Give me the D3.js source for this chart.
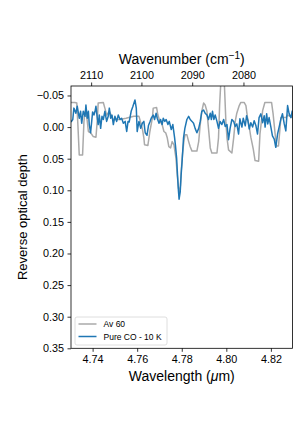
<html>
<head>
    <script src="https://d3js.org/d3.v7.min.js"></script>
    <style>
        body { margin: 0; background: #fff; }
        text { font-family: "Liberation Sans", Arial, sans-serif; fill: #000; }
        .axis path, .axis line { stroke: #000; stroke-width: 0.8px; }
        .axis text { font-size: 10.8px; }
    </style>
</head>
<body>
    <svg id="chart" width="308" height="436" style="background: #fff"></svg>

    <script>
        // wavelength (um), reverse optical depth
        const avSpectrum = [
          [4.7303,-0.039],[4.7320,-0.039],[4.7329,-0.038],[4.7334,-0.003],[4.7340,0.044],[4.7355,0.044],
          [4.7361,-0.008],[4.7366,-0.025],[4.7373,-0.019],[4.7381,0.007],[4.7391,0.009],[4.7403,0.015],
          [4.7415,0.016],[4.7421,-0.011],[4.7425,-0.038],[4.7448,-0.039],[4.7455,-0.030],[4.7463,-0.019],
          [4.7475,-0.025],[4.7486,-0.017],[4.7491,-0.012],[4.7523,-0.012],[4.7550,-0.014],[4.7585,-0.017],
          [4.7608,-0.017],[4.7623,0.002],[4.7630,0.017],[4.7633,0.028],[4.7648,0.029],[4.7657,0.007],
          [4.7668,-0.014],[4.7672,-0.030],[4.7687,-0.031],[4.7693,-0.019],[4.7702,-0.009],[4.7712,-0.004],
          [4.7720,0.007],[4.7728,0.009],[4.7735,0.017],[4.7742,0.031],[4.7750,0.033],[4.7757,0.023],
          [4.7765,0.028],[4.7774,0.049],[4.7780,0.076],[4.7785,0.096],[4.7789,0.103],[4.7794,0.093],
          [4.7798,0.068],[4.7803,0.044],[4.7810,0.021],[4.7815,0.012],[4.7823,0.012],[4.7831,0.023],
          [4.7838,0.031],[4.7846,0.038],[4.7868,0.038],[4.7876,0.023],[4.7883,-0.004],[4.7890,-0.025],
          [4.7898,-0.038],[4.7905,-0.035],[4.7913,-0.025],[4.7920,0.002],[4.7928,0.033],[4.7935,0.041],
          [4.7958,0.041],[4.7965,0.017],[4.7970,-0.035],[4.7974,-0.062],[4.7978,-0.085],[4.7989,-0.085],
          [4.7992,-0.062],[4.7998,-0.009],[4.8003,0.017],[4.8010,0.036],[4.8025,0.041],[4.8033,0.017],
          [4.8040,-0.009],[4.8047,-0.022],[4.8058,-0.034],[4.8065,-0.039],[4.8080,-0.039],[4.8088,-0.034],
          [4.8095,-0.015],[4.8103,0.000],[4.8110,0.016],[4.8121,0.035],[4.8129,0.053],[4.8145,0.054],
          [4.8151,0.011],[4.8163,-0.026],[4.8173,-0.039],[4.8203,-0.039],[4.8210,-0.021],[4.8219,0.011],
          [4.8225,0.030],[4.8234,0.030],[4.8240,0.006],[4.8245,-0.015],[4.8267,-0.015],[4.8276,-0.019],
          [4.8296,-0.015]
        ];

        const pureCO = [
          [4.7303,-0.008],[4.7311,-0.012],[4.7316,-0.030],[4.7325,-0.022],[4.7331,-0.033],[4.7340,-0.014],
          [4.7346,-0.025],[4.7351,-0.006],[4.7358,-0.025],[4.7366,-0.017],[4.7370,-0.035],[4.7376,-0.014],
          [4.7381,-0.025],[4.7385,-0.004],[4.7391,0.009],[4.7400,-0.024],[4.7406,-0.019],[4.7411,-0.025],
          [4.7415,-0.033],[4.7421,-0.014],[4.7425,-0.004],[4.7430,-0.019],[4.7436,0.002],[4.7442,-0.017],
          [4.7448,-0.012],[4.7455,-0.025],[4.7463,-0.009],[4.7470,-0.017],[4.7475,-0.030],[4.7481,-0.014],
          [4.7487,-0.019],[4.7493,-0.004],[4.7500,-0.017],[4.7508,-0.009],[4.7515,-0.019],[4.7523,-0.012],
          [4.7530,-0.014],[4.7538,-0.006],[4.7546,-0.009],[4.7553,0.007],[4.7559,-0.009],[4.7564,-0.008],
          [4.7573,-0.025],[4.7581,-0.033],[4.7590,-0.043],[4.7596,-0.030],[4.7600,0.007],[4.7608,-0.009],
          [4.7616,0.002],[4.7623,-0.006],[4.7630,-0.009],[4.7636,0.009],[4.7644,0.013],[4.7651,-0.003],
          [4.7657,-0.008],[4.7663,-0.014],[4.7672,-0.019],[4.7678,-0.012],[4.7685,-0.022],[4.7690,-0.014],
          [4.7698,-0.006],[4.7705,-0.012],[4.7712,-0.004],[4.7717,-0.014],[4.7724,-0.009],[4.7730,-0.012],
          [4.7738,-0.004],[4.7744,-0.009],[4.7753,0.004],[4.7760,-0.004],[4.7768,0.017],[4.7772,0.030],
          [4.7777,0.049],[4.7781,0.076],[4.7785,0.100],[4.7788,0.114],[4.7793,0.103],[4.7797,0.077],
          [4.7802,0.052],[4.7808,0.017],[4.7814,0.002],[4.7823,-0.012],[4.7831,-0.017],[4.7838,-0.012],
          [4.7846,-0.009],[4.7853,-0.006],[4.7860,0.002],[4.7868,0.009],[4.7876,0.002],[4.7883,-0.009],
          [4.7890,-0.025],[4.7898,-0.027],[4.7905,-0.022],[4.7913,-0.019],[4.7920,-0.012],[4.7928,-0.022],
          [4.7933,-0.012],[4.7938,-0.025],[4.7944,-0.012],[4.7950,-0.019],[4.7958,-0.009],[4.7965,0.002],
          [4.7972,-0.009],[4.7980,-0.004],[4.7988,-0.012],[4.7995,-0.001],[4.8003,-0.004],[4.8010,0.020],
          [4.8017,0.002],[4.8025,-0.012],[4.8033,-0.009],[4.8040,-0.001],[4.8047,-0.005],[4.8055,0.011],
          [4.8061,-0.013],[4.8070,0.000],[4.8076,-0.014],[4.8085,-0.002],[4.8091,-0.018],[4.8097,-0.010],
          [4.8103,0.003],[4.8110,-0.007],[4.8118,0.000],[4.8125,-0.010],[4.8133,-0.002],[4.8140,0.011],
          [4.8147,-0.015],[4.8155,-0.021],[4.8163,-0.007],[4.8170,-0.018],[4.8174,0.000],[4.8181,-0.021],
          [4.8186,-0.005],[4.8192,-0.015],[4.8200,0.000],[4.8207,0.014],[4.8215,0.019],[4.8222,0.032],
          [4.8230,0.011],[4.8237,0.000],[4.8245,-0.013],[4.8252,-0.021],[4.8260,-0.005],[4.8267,0.006],
          [4.8275,-0.034],[4.8282,-0.021],[4.8290,-0.015],[4.8296,-0.026]
        ];

        const seriesNames = ["Av 60", "Pure CO - 10 K"];
        const seriesColors = ["#aaaaaa", "#1f77b4"];
        const wlTicks = [4.74, 4.76, 4.78, 4.80, 4.82];
        const wnTicks = [2110, 2100, 2090, 2080];
        const depthTicks = [-0.05, 0.00, 0.05, 0.10, 0.15, 0.20, 0.25, 0.30, 0.35];

        const svg = d3.select("#chart");
        const plot = { left: 71, right: 292.5, top: 86, bottom: 348.3 };

        const x = d3.scaleLinear().domain([4.7303, 4.8297]).range([plot.left, plot.right]);
        const y = d3.scaleLinear().domain([-0.065, 0.35]).range([plot.top, plot.bottom]);

        svg.append("clipPath").attr("id", "clip")
          .append("rect")
          .attr("x", plot.left).attr("y", plot.top)
          .attr("width", plot.right - plot.left).attr("height", plot.bottom - plot.top);

        const line = d3.line().x(d => x(d[0])).y(d => y(d[1]));

        const lines = svg.append("g").attr("clip-path", "url(#clip)");
        [avSpectrum, pureCO].forEach((s, i) => {
          lines.append("path")
            .datum(s)
            .attr("d", line)
            .attr("fill", "none")
            .attr("stroke", seriesColors[i])
            .attr("stroke-width", 1.5)
            .attr("stroke-linejoin", "round");
        });

        // frame
        svg.append("rect")
          .attr("x", plot.left).attr("y", plot.top)
          .attr("width", plot.right - plot.left).attr("height", plot.bottom - plot.top)
          .attr("fill", "none").attr("stroke", "#000").attr("stroke-width", 0.8);

        // bottom axis
        svg.append("g").attr("class", "axis")
          .attr("transform", `translate(0,${plot.bottom})`)
          .call(d3.axisBottom(x).tickValues(wlTicks).tickFormat(d3.format(".2f")).tickSize(3.5).tickPadding(3.5))
          .call(g => g.select(".domain").remove());

        // top axis in wavenumber
        svg.append("g").attr("class", "axis")
          .attr("transform", `translate(0,${plot.top})`)
          .call(d3.axisTop(x).tickValues(wnTicks.map(w => 1e4 / w))
                .tickFormat(d => Math.round(1e4 / d)).tickSize(3.5).tickPadding(3.5))
          .call(g => g.select(".domain").remove());

        // left axis
        svg.append("g").attr("class", "axis")
          .attr("transform", `translate(${plot.left},0)`)
          .call(d3.axisLeft(y).tickValues(depthTicks).tickFormat(d3.format(".2f")).tickSize(3.5).tickPadding(3.5))
          .call(g => g.select(".domain").remove());

        // axis labels
        const xl = svg.append("text")
          .attr("x", (plot.left + plot.right) / 2).attr("y", 381)
          .attr("text-anchor", "middle").style("font-size", "14px");
        xl.append("tspan").text("Wavelength (");
        xl.append("tspan").style("font-style", "italic").text("μ");
        xl.append("tspan").text("m)");

        const tl = svg.append("text")
          .attr("x", (plot.left + plot.right) / 2).attr("y", 64)
          .attr("text-anchor", "middle").style("font-size", "14px");
        tl.append("tspan").text("Wavenumber (cm");
        tl.append("tspan").attr("dy", -5).style("font-size", "10px").text("−1");
        tl.append("tspan").attr("dy", 5).text(")");

        svg.append("text")
          .attr("transform", `translate(27,${(plot.top + plot.bottom) / 2}) rotate(-90)`)
          .attr("text-anchor", "middle").style("font-size", "13px")
          .text("Reverse optical depth");

        // legend
        const legend = svg.append("g").attr("transform", "translate(75,317)");
        legend.append("rect")
          .attr("width", 92).attr("height", 28).attr("rx", 2)
          .attr("fill", "#fff").attr("fill-opacity", 0.8)
          .attr("stroke", "#d6d6d6").attr("stroke-width", 0.8);

        const item = legend.selectAll(".legend-item")
          .data(seriesNames)
          .join("g")
          .attr("class", "legend-item")
          .attr("transform", (d, i) => `translate(0, ${7 + i * 12.5})`);

        item.append("line")
          .attr("x1", 3.5).attr("x2", 21.5)
          .attr("stroke", (d, i) => seriesColors[i]).attr("stroke-width", 1.5);

        item.append("text")
          .attr("x", 28.5).attr("y", 3)
          .style("font-size", "8.5px")
          .text(d => d);
    </script>
</body>
</html>
